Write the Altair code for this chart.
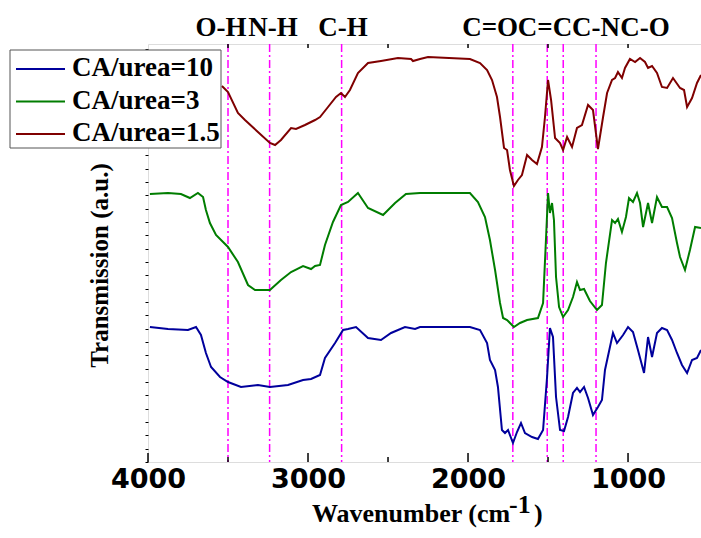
import altair as alt
import pandas as pd

# ---- data (wavenumber cm-1, transmission a.u.) ----
s10_wn = [3988, 3875, 3750, 3700, 3669, 3638, 3606, 3550, 3500, 3419, 3313, 3238, 3125, 3031, 2981,
          2925, 2894, 2831, 2781, 2750, 2700, 2625, 2544, 2481, 2394, 2331, 2300, 2250, 1988, 1925,
          1881, 1863, 1831, 1813, 1788, 1769, 1750, 1719, 1694, 1669, 1644, 1600, 1563, 1531, 1506,
          1488, 1469, 1450, 1425, 1400, 1375, 1344, 1319, 1300, 1275, 1250, 1219, 1188, 1163, 1144,
          1113, 1094, 1069, 1031, 1000, 969, 938, 900, 875, 850, 819, 788, 756, 725, 694,
          663, 631, 600, 569, 544]
s10_t = [135, 133, 132, 135, 127, 109, 95, 85, 80, 75, 77, 75, 77, 82, 83,
         87, 104, 119, 132, 133, 135, 124, 122, 129, 135, 133, 135, 135, 135, 132,
         119, 102, 92, 75, 32, 29, 32, 19, 30, 39, 29, 25, 23, 32, 85,
         134, 125, 65, 32, 31, 45, 69, 74, 70, 75, 64, 47, 55, 62, 92,
         115, 129, 119, 127, 135, 130, 112, 89, 125, 105, 129, 134, 132, 122, 109,
         97, 89, 102, 104, 112]

s3_wn = [3988, 3875, 3794, 3738, 3688, 3656, 3638, 3613, 3575, 3500, 3438, 3375, 3331, 3238, 3169,
         3106, 3031, 2981, 2956, 2925, 2894, 2844, 2794, 2750, 2688, 2625, 2531, 2456, 2388, 2300,
         2250, 1988, 1938, 1894, 1863, 1831, 1800, 1781, 1756, 1713, 1675, 1631, 1563, 1531, 1513,
         1500, 1488, 1475, 1463, 1450, 1431, 1406, 1375, 1344, 1319, 1300, 1275, 1238, 1194, 1163,
         1138, 1100, 1081, 1063, 1038, 1013, 994, 969, 944, 925, 906, 875, 850, 819, 788,
         756, 725, 694, 675, 644, 613, 581, 544]
s3_t = [268, 269, 268, 264, 269, 265, 252, 239, 227, 215, 200, 177, 172, 172, 182,
        190, 196, 193, 196, 197, 217, 240, 257, 260, 269, 254, 247, 259, 268, 269,
        269, 269, 260, 245, 222, 192, 159, 144, 142, 135, 139, 142, 144, 159, 222,
        269, 249, 259, 242, 185, 155, 145, 152, 165, 180, 172, 173, 161, 152, 157,
        199, 242, 239, 243, 230, 245, 264, 260, 269, 259, 235, 259, 239, 265, 255,
        255, 244, 219, 205, 192, 212, 235, 234]

s15_wn = [3538, 3500, 3438, 3394, 3313, 3238, 3206, 3169, 3106, 3075, 3019, 2956, 2925, 2875, 2825,
          2794, 2769, 2738, 2688, 2625, 2544, 2438, 2356, 2344, 2300, 2250, 1988, 1925, 1881, 1850,
          1819, 1800, 1775, 1756, 1738, 1713, 1688, 1663, 1631, 1600, 1569, 1538, 1519, 1500, 1481,
          1456, 1425, 1406, 1381, 1350, 1319, 1288, 1250, 1219, 1188, 1156, 1131, 1100, 1081, 1063,
          1038, 1019, 988, 956, 925, 894, 875, 850, 819, 788, 756, 719, 675, 650, 631,
          600, 569, 544]
s15_t = [376, 370, 349, 342, 330, 319, 317, 322, 334, 333, 337, 342, 345, 355, 365,
         369, 365, 372, 389, 399, 401, 404, 403, 401, 403, 405, 403, 399, 392, 382,
         365, 345, 314, 312, 292, 276, 282, 287, 307, 302, 298, 315, 345, 382, 362,
         324, 319, 312, 325, 315, 334, 337, 357, 352, 313, 345, 369, 382, 384, 390,
         384, 394, 403, 400, 404, 400, 394, 396, 389, 375, 374, 384, 374, 372, 355,
         364, 379, 387]

series_names = ["CA/urea=10", "CA/urea=3", "CA/urea=1.5"]
series_colors = ["#00009c", "#007d00", "#7f0000"]

band_labels = ["O-H", "N-H", "C-H", "C=O", "C=C", "C-N", "C-O"]
band_label_wn = [3544, 3219, 2781, 1862, 1519, 1200, 894]
band_line_wn = [3500, 3240, 2790, 1720, 1505, 1405, 1200]

x_tick_labels = [4000, 3000, 2000, 1000]
x_minor_ticks = [3500, 2500, 1500]
x_top_ticks = [3500, 3000, 2500, 2000, 1500, 1000]

W, H = 553, 418
SERIF = "Liberation Serif"

rows = []
for name, wn, t in [(series_names[0], s10_wn, s10_t),
                    (series_names[1], s3_wn, s3_t),
                    (series_names[2], s15_wn, s15_t)]:
    for a, b in zip(wn, t):
        rows.append({"series": name, "wn": a, "T": b})
df = pd.DataFrame(rows)

xscale = alt.Scale(domain=[4000, 544], nice=False, zero=False)
yscale = alt.Scale(domain=[0, 418], nice=False, zero=False)

lines = alt.Chart(df).mark_line(strokeWidth=2, clip=False).encode(
    x=alt.X("wn:Q", scale=xscale,
            axis=alt.Axis(values=x_tick_labels, format="d", title=None, ticks=False,
                          domain=False, grid=False, labelFont="DejaVu Sans",
                          labelFontWeight="bold", labelFontSize=27, labelColor="black",
                          labelPadding=4, labelFlush=False)),
    y=alt.Y("T:Q", scale=yscale,
            axis=alt.Axis(labels=False, grid=False, domain=False, tickSize=3, tickWidth=1,
                          tickColor="black",
                          values=[round(i * 40 / 3, 2) for i in range(32)],
                          title="Transmission (a.u.)", titleFont=SERIF,
                          titleFontSize=25, titleFontWeight="bold", titleColor="black",
                          titleX=-36, titleY=221)),
    color=alt.Color("series:N",
                    scale=alt.Scale(domain=series_names, range=series_colors),
                    legend=None),
)

bands = pd.DataFrame({"wn": band_line_wn})
vlines = alt.Chart(bands).mark_rule(color="#ff00ff", strokeWidth=1.5,
                                    strokeDash=[8, 3, 2, 3]).encode(
    x=alt.X("wn:Q", scale=xscale))

labdf = pd.DataFrame({"wn": band_label_wn, "label": band_labels})
band_text = alt.Chart(labdf).mark_text(font=SERIF, fontSize=27,
                                       fontWeight="bold", color="black",
                                       baseline="alphabetic", align="center").encode(
    x=alt.X("wn:Q", scale=xscale), y=alt.value(-8), text="label:N")

major = pd.DataFrame({"wn": x_tick_labels})
minor = pd.DataFrame({"wn": x_minor_ticks})
top = pd.DataFrame({"wn": x_top_ticks})
tick_major = alt.Chart(major).mark_rule(color="black", strokeWidth=1.5).encode(
    x=alt.X("wn:Q", scale=xscale), y=alt.value(H), y2=alt.value(H - 9))
tick_minor = alt.Chart(minor).mark_rule(color="black", strokeWidth=1.5).encode(
    x=alt.X("wn:Q", scale=xscale), y=alt.value(H), y2=alt.value(H - 5))
tick_top = alt.Chart(top).mark_rule(color="black", strokeWidth=1.5).encode(
    x=alt.X("wn:Q", scale=xscale), y=alt.value(0), y2=alt.value(4))

xt1 = alt.Chart(pd.DataFrame({"t": ["Wavenumber (cm"]})).mark_text(
    font=SERIF, fontSize=26, fontWeight="bold", color="black", align="left",
    baseline="alphabetic").encode(x=alt.value(164), y=alt.value(H + 60), text="t:N")
xt2 = alt.Chart(pd.DataFrame({"t": ["-1"]})).mark_text(
    font=SERIF, fontSize=26, fontWeight="bold", color="black",
    align="left", baseline="alphabetic").encode(
    x=alt.value(361), y=alt.value(H + 51), text="t:N")
xt3 = alt.Chart(pd.DataFrame({"t": [")"]})).mark_text(
    font=SERIF, fontSize=26, fontWeight="bold", color="black",
    align="left", baseline="alphabetic").encode(
    x=alt.value(386), y=alt.value(H + 60), text="t:N")

# ---- legend box (drawn with marks so its rows match the reference spacing) ----
legend_box = alt.Chart(pd.DataFrame({"k": [0]})).mark_rect(
    fill="white", stroke="#555555", strokeWidth=1).encode(
    x=alt.value(-138), x2=alt.value(73), y=alt.value(6), y2=alt.value(104))
legend_layers = [legend_box]
for i, (name, col) in enumerate(zip(series_names, series_colors)):
    row_y = 25 + 32.5 * i
    legend_layers.append(
        alt.Chart(pd.DataFrame({"series": [name]})).mark_rule(color=col, strokeWidth=2).encode(
            x=alt.value(-132), x2=alt.value(-83), y=alt.value(row_y)))
    legend_layers.append(
        alt.Chart(pd.DataFrame({"series": [name]})).mark_text(
            font=SERIF, fontSize=27, fontWeight="bold", color="black", align="left",
            baseline="alphabetic").encode(
            x=alt.value(-76), y=alt.value(row_y + 7), text="series:N"))

chart = alt.layer(vlines, lines, tick_major, tick_minor, tick_top, band_text,
                  xt1, xt2, xt3, *legend_layers).properties(
    width=W, height=H,
    autosize=alt.AutoSizeParams(type="none"),
    padding={"left": 148, "top": 44, "right": 0, "bottom": 76},
).configure_view(stroke="black", strokeWidth=2).configure(background="white")

chart.save("out.html", embed_options={"renderer": "svg", "actions": False})
